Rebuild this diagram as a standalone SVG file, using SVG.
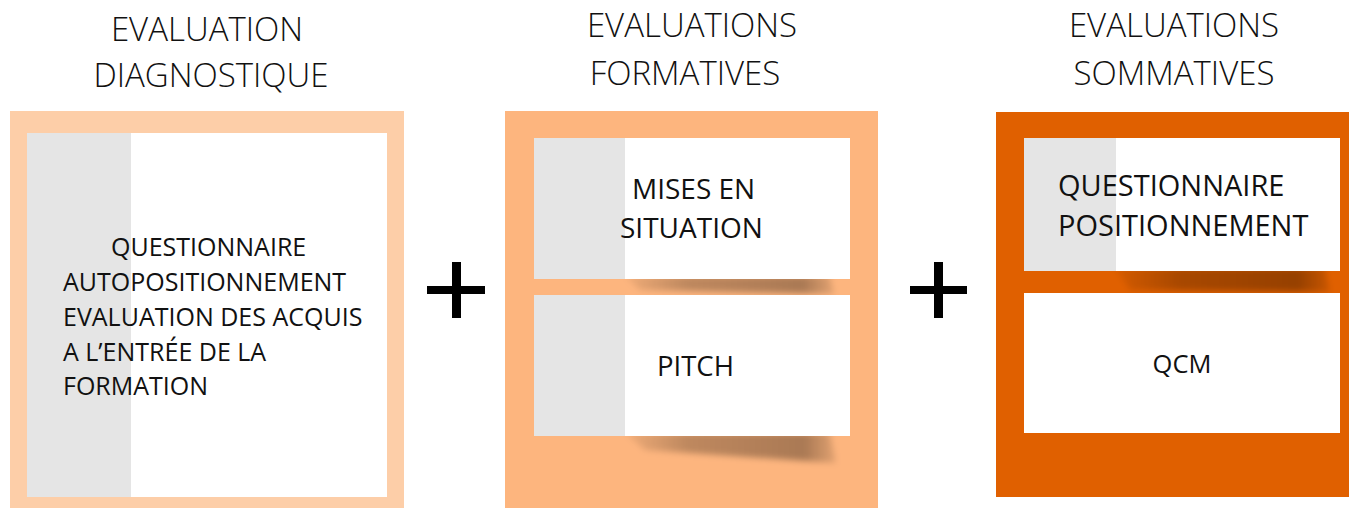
<svg xmlns="http://www.w3.org/2000/svg" width="1349" height="508" viewBox="0 0 1349 508">
<defs>
<style>
.t{font-family:"Open Sans","Liberation Sans",sans-serif;fill:#111;}
.title{font-size:33px;font-weight:300;text-anchor:middle;}
.box{fill:#fff;}
.gray{fill:#e5e5e5;}
.plus{fill:#000;}
</style>
<linearGradient id="shg" x1="0" y1="0" x2="1" y2="0">
<stop offset="0" stop-color="#000" stop-opacity="0.05"/>
<stop offset="0.3" stop-color="#000" stop-opacity="0.25"/>
<stop offset="0.85" stop-color="#000" stop-opacity="0.33"/>
<stop offset="1" stop-color="#000" stop-opacity="0.1"/>
</linearGradient>
<filter id="blur" x="-10%" y="-50%" width="120%" height="200%">
<feGaussianBlur stdDeviation="3"/>
</filter>
</defs>
<rect width="1349" height="508" fill="#fff"/>

<g id="diagnostique">
<text class="t title" x="207" y="41">EVALUATION</text>
<text class="t title" x="211" y="87">DIAGNOSTIQUE</text>
<rect x="10" y="111" width="394" height="397" fill="#fdcea8"/>
<rect class="box" x="27" y="133" width="360" height="364"/>
<rect class="gray" x="27" y="133" width="104" height="364"/>
<g class="t" font-size="25">
<text x="111" y="256">QUESTIONNAIRE</text>
<text x="63" y="291">AUTOPOSITIONNEMENT</text>
<text x="63" y="326">EVALUATION DES ACQUIS</text>
<text x="63" y="361">A L’ENTRÉE DE LA</text>
<text x="63" y="395">FORMATION</text>
</g>
</g>

<g id="formatives">
<text class="t title" x="692" y="37">EVALUATIONS</text>
<text class="t title" x="685" y="85">FORMATIVES</text>
<rect x="505" y="111" width="373" height="397" fill="#fdb57e"/>
<path d="M625,276 L830,276 L834,294 L640,290 Z" fill="url(#shg)" filter="url(#blur)"/>
<path d="M625,433 L830,433 L836,463 L645,450 Z" fill="url(#shg)" filter="url(#blur)"/>
<g id="mises-en-situation">
<rect class="box" x="534" y="138" width="316" height="141"/>
<rect class="gray" x="534" y="138" width="91" height="141"/>
<text class="t" font-size="28" x="632" y="199">MISES EN</text>
<text class="t" font-size="28" x="620" y="238">SITUATION</text>
</g>
<g id="pitch">
<rect class="box" x="534" y="295" width="316" height="141"/>
<rect class="gray" x="534" y="295" width="91" height="141"/>
<text class="t" font-size="27.5" x="657" y="376">PITCH</text>
</g>
</g>

<g id="sommatives">
<text class="t title" x="1174" y="37">EVALUATIONS</text>
<text class="t title" x="1174" y="85">SOMMATIVES</text>
<rect x="996" y="112" width="353" height="385" fill="#e06000"/>
<path d="M1115,268 L1325,268 L1330,292 L1130,290 Z" fill="url(#shg)" filter="url(#blur)"/>
<g id="questionnaire-positionnement">
<rect class="box" x="1024" y="138" width="316" height="133"/>
<rect class="gray" x="1024" y="138" width="92" height="133"/>
<text class="t" font-size="29" x="1058" y="196">QUESTIONNAIRE</text>
<text class="t" font-size="29" x="1058" y="236">POSITIONNEMENT</text>
</g>
<g id="qcm">
<rect class="box" x="1024" y="293" width="316" height="140"/>
<text class="t" font-size="25.5" x="1182" y="373" text-anchor="middle">QCM</text>
</g>
</g>

<g id="connectors">
<rect class="plus" x="427" y="286" width="58" height="8"/>
<rect class="plus" x="452" y="262" width="9" height="56"/>
<rect class="plus" x="910" y="286" width="57" height="8"/>
<rect class="plus" x="934" y="262" width="9" height="56"/>
</g>
</svg>
